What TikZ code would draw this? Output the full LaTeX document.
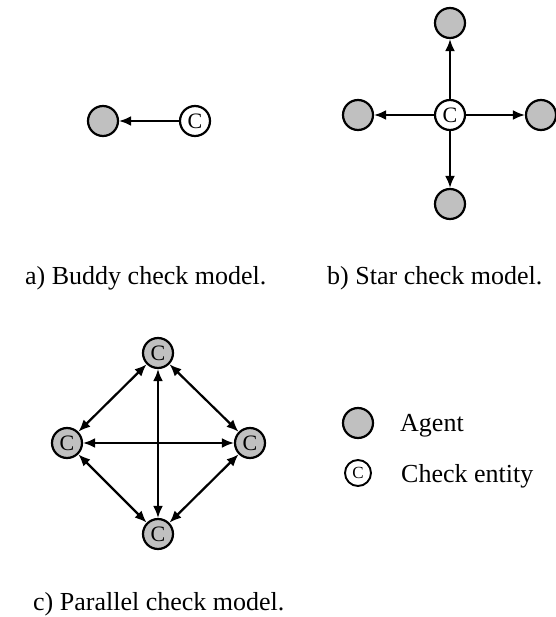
\documentclass[tikz,border=0pt]{standalone}
\usepackage{fontspec}
\setmainfont{Liberation Serif}
\usetikzlibrary{arrows.meta}
\definecolor{agentgray}{RGB}{192,192,192}
\begin{document}
\begin{tikzpicture}[x=1pt,y=-1pt,
  agent/.style={circle,draw,line width=2.2pt,fill=agentgray,minimum size=30pt,
    inner sep=0pt,font=\fontsize{22}{22}\selectfont},
  checker/.style={agent,fill=white},
  tip/.tip={Latex[length=12pt,width=10pt]},
  link/.style={line width=2.2pt,-tip},
  bilink/.style={line width=2.2pt,tip-tip},
  caption/.style={anchor=base west,inner sep=0pt,font=\fontsize{26}{30}\selectfont},
]
\useasboundingbox (0,0) rectangle (555,617);

% a) buddy check
\node[agent]   (ba) at (103,121) {};
\node[checker] (bc) at (195,121) {C};
\draw[link] (bc) -- (ba);
\node[caption] (capa) at (25,284) {a) Buddy check model.};

% b) star check
\node[checker] (sc) at (450,115) {C};
\node[agent]   (st) at (450,23)  {};
\node[agent]   (sl) at (358,115) {};
\node[agent]   (sr) at (541,115) {};
\node[agent]   (sb) at (450,204) {};
\draw[link] (sc) -- (st);
\draw[link] (sc) -- (sl);
\draw[link] (sc) -- (sr);
\draw[link] (sc) -- (sb);
\node[caption] (capb) at (327,284) {b) Star check model.};

% c) parallel check
\node[agent] (pt) at (158,353) {C};
\node[agent] (pl) at (67,443)  {C};
\node[agent] (pr) at (250,443) {C};
\node[agent] (pb) at (158,534) {C};
\draw[bilink] (pt) -- (pl);
\draw[bilink] (pt) -- (pr);
\draw[bilink] (pb) -- (pl);
\draw[bilink] (pb) -- (pr);
\draw[bilink] (pl) -- (pr);
\draw[bilink] (pt) -- (pb);
\node[caption] (capc) at (33,610) {c) Parallel check model.};

% legend
\node[agent] (la) at (358,423) {};
\node[caption] (lat) at (400,431) {Agent};
\node[checker,minimum size=26pt,line width=1.9pt,font=\fontsize{17}{17}\selectfont]
  (lc) at (358,473) {C};
\node[caption] (lct) at (401,482) {Check entity};
\end{tikzpicture}
\end{document}
